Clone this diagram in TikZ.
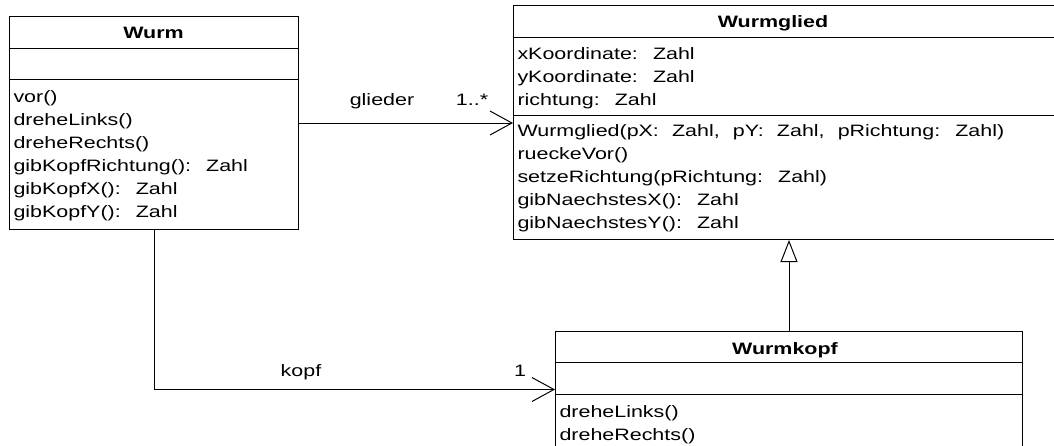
\documentclass[tikz,border=0pt]{standalone}
\usepackage{fontspec}
\setmainfont{Liberation Sans}[FakeStretch=1.3,WordSpace=2.2]
\usepackage{tikz}
\usetikzlibrary{arrows.meta}

\begin{document}
\begin{tikzpicture}[x=1pt,y=-1pt,line width=1pt,
    classbox/.style={draw,rectangle,anchor=north west,inner sep=0pt},
    classname/.style={anchor=base,inner sep=0pt,font=\fontsize{16.5}{23}\selectfont\bfseries},
    member/.style={anchor=base west,inner sep=0pt,font=\fontsize{16.5}{23}\selectfont},
    rolename/.style={anchor=base,inner sep=0pt,font=\fontsize{16.5}{23}\selectfont},
    assoc/.style={-{Straight Barb[length=22pt,width=24pt]}},
    inherit/.style={-{Triangle[open,length=22pt,width=17pt]}}]
  \useasboundingbox (0,0) rectangle (1054,445);

  % Wurm
  \node[classbox,minimum width=289,minimum height=213] (wurm) at (9,16) {};
  \draw (wurm.west |- 0,48) -- (wurm.east |- 0,48);
  \draw (wurm.west |- 0,79) -- (wurm.east |- 0,79);
  \node[classname] (wurmname) at (153.5,38) {Wurm};
  \foreach \txt [count=\i] in {vor(), dreheLinks(), dreheRechts(),
      {gibKopfRichtung(): Zahl}, {gibKopfX(): Zahl}, {gibKopfY(): Zahl}}
    \node[member] (wurmop\i) at (13,79+23*\i) {\txt};

  % Wurmglied
  \node[classbox,minimum width=551,minimum height=234] (wurmglied) at (513,5) {};
  \draw (wurmglied.west |- 0,37) -- (wurmglied.east |- 0,37);
  \draw (wurmglied.west |- 0,115) -- (wurmglied.east |- 0,115);
  \node[classname] (wurmgliedname) at (773,27) {Wurmglied};
  \foreach \txt [count=\i] in {{xKoordinate: Zahl}, {yKoordinate: Zahl}, {richtung: Zahl}}
    \node[member] (wurmgliedattr\i) at (517,36+23*\i) {\txt};
  \foreach \txt [count=\i] in {{Wurmglied(pX: Zahl, pY: Zahl, pRichtung: Zahl)}, rueckeVor(),
      {setzeRichtung(pRichtung: Zahl)}, {gibNaechstesX(): Zahl}, {gibNaechstesY(): Zahl}}
    \node[member] (wurmgliedop\i) at (517,113+23*\i) {\txt};

  % Wurmkopf
  \node[classbox,minimum width=467,minimum height=116] (wurmkopf) at (555,331) {};
  \draw (wurmkopf.west |- 0,362) -- (wurmkopf.east |- 0,362);
  \draw (wurmkopf.west |- 0,394) -- (wurmkopf.east |- 0,394);
  \node[classname] (wurmkopfname) at (785,354) {Wurmkopf};
  \node[member] (wurmkopfop1) at (559,417) {dreheLinks()};
  \node[member] (wurmkopfop2) at (559,440) {dreheRechts()};

  % Beziehungen
  \draw[assoc] (wurm.east) -- (wurm.east -| wurmglied.west);
  \node[rolename] (glieder) at (382,105) {glieder};
  \node[rolename] (gliedermult) at (472,105) {1..*};
  \draw[assoc] (wurm.south) |- (wurmkopf.west);
  \node[rolename] (kopf) at (301,376) {kopf};
  \node[rolename] (kopfmult) at (520,376) {1};
  \draw[inherit] (wurmkopf.north) -- (wurmkopf.north |- wurmglied.south);
\end{tikzpicture}
\end{document}
